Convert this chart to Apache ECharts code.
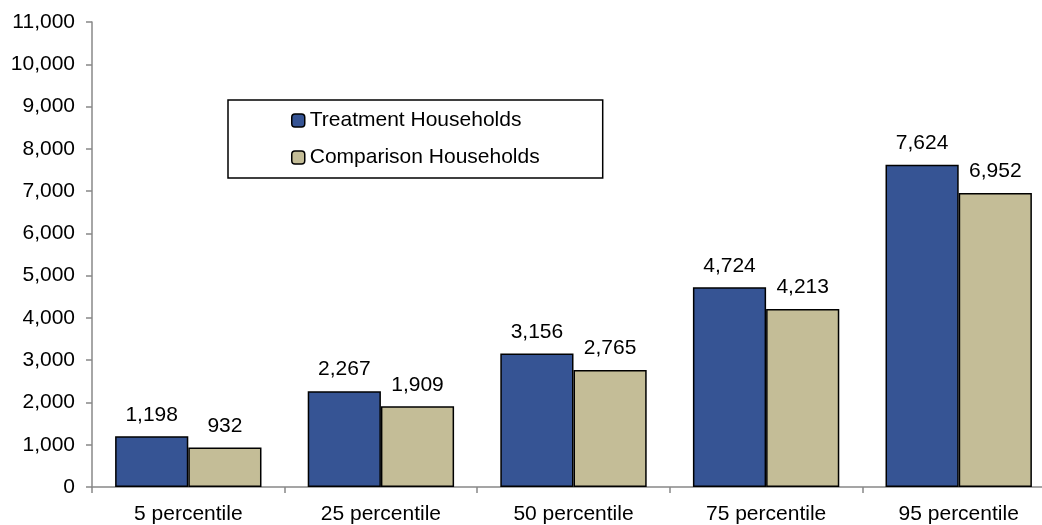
<!DOCTYPE html>
<html>
<head>
<meta charset="utf-8">
<script src="https://cdn.jsdelivr.net/npm/echarts@6/dist/echarts.min.js"></script>
<style>
  html, body { margin: 0; padding: 0; background: #fff; }
  #chart { width: 1042px; height: 525px; }
</style>
</head>
<body>
<div id="chart"></div>
<script>
const categories = ['5 percentile', '25 percentile', '50 percentile', '75 percentile', '95 percentile'];
const treatment = [1198, 2267, 3156, 4724, 7624];
const comparison = [932, 1909, 2765, 4213, 6952];
const seriesNames = ['Treatment Households', 'Comparison Households'];

const FONT = 'Liberation Sans, Arial, sans-serif';
const FS = 21;
const fmt = v => v.toLocaleString('en-US');

const chart = echarts.init(document.getElementById('chart'));

function barSeries(name, data, color) {
  return {
    name: name,
    type: 'bar',
    data: data,
    barGap: '0%',
    barCategoryGap: '24%',
    itemStyle: { color: color, borderColor: '#000', borderWidth: 1.5 },
    label: {
      show: true,
      position: 'top',
      distance: 11,
      color: '#000',
      fontFamily: FONT,
      fontSize: FS,
      formatter: p => fmt(p.value)
    }
  };
}

chart.setOption({
  animation: false,
  backgroundColor: '#fff',
  textStyle: { fontFamily: FONT },
  // the plot runs a little past the right edge of the canvas
  grid: { left: 92, width: 963, top: 22, bottom: 38, containLabel: false, outerBoundsMode: 'none' },
  legend: {
    orient: 'vertical',
    left: 228,
    top: 100,
    padding: [10, 63, 10, 63],
    itemGap: 16,
    itemWidth: 13,
    itemHeight: 13,
    borderColor: '#000',
    borderWidth: 1.5,
    textStyle: { fontFamily: FONT, fontSize: FS, color: '#000' },
    data: seriesNames.map(n => ({ name: n, itemStyle: { borderColor: '#000', borderWidth: 1.5 } }))
  },
  xAxis: {
    type: 'category',
    data: categories,
    axisLine: { lineStyle: { color: '#888', width: 1.5 } },
    axisTick: { show: true, length: 6, alignWithLabel: false, lineStyle: { color: '#888', width: 1.5 } },
    axisLabel: { color: '#000', fontFamily: FONT, fontSize: FS, margin: 17 }
  },
  yAxis: {
    type: 'value',
    min: 0,
    max: 11000,
    interval: 1000,
    axisLine: { show: true, lineStyle: { color: '#888', width: 1.5 } },
    axisTick: { show: true, length: 6, lineStyle: { color: '#888', width: 1.5 } },
    splitLine: { show: false },
    axisLabel: { color: '#000', fontFamily: FONT, fontSize: FS, margin: 17, formatter: v => fmt(v) }
  },
  series: [
    barSeries(seriesNames[0], treatment, '#365494'),
    barSeries(seriesNames[1], comparison, '#C4BD97')
  ]
});
</script>
</body>
</html>
